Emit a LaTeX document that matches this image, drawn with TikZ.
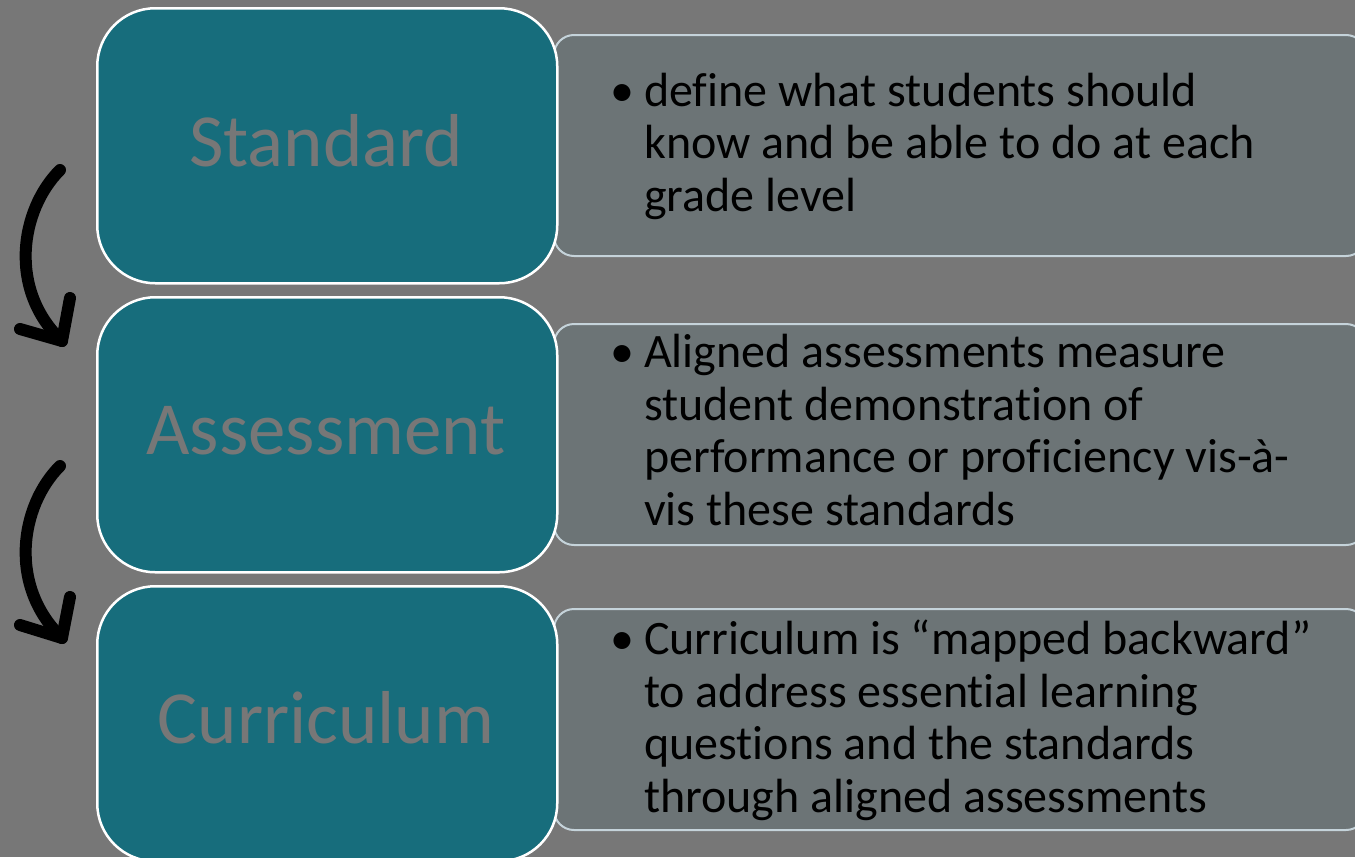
\documentclass[tikz,border=0pt]{standalone}
\usepackage{fontspec}
\setmainfont{Carlito}[Ligatures={NoCommon,NoRare,NoContextual}]
\definecolor{bg}{HTML}{777777}
\definecolor{tealbox}{HTML}{176D7C}
\definecolor{panelfill}{HTML}{6C7476}
\definecolor{panelline}{HTML}{C5D3DA}
\tikzset{
  panelbox/.style={draw=panelline, line width=2pt, fill=panelfill, rounded corners=20pt,
    minimum width=812pt, minimum height=221pt, anchor=north west, inner sep=0pt},
  tealnode/.style={draw=white, line width=2.5pt, fill=tealbox, rounded corners=58pt,
    minimum width=460pt, minimum height=275pt, anchor=north west, inner sep=0pt},
  labeltext/.style={inner sep=0pt, text=bg, font=\fontsize{75}{80}\selectfont},
  bullettext/.style={anchor=west, inner sep=0pt, font=\fontsize{48}{52.5}\selectfont, text=black},
  arrowline/.style={draw=black, line width=12pt, line cap=round, line join=round}
}
\newcommand{\bulletlines}[1]{\begin{tabular}{@{}p{34pt}@{}l@{}}#1\end{tabular}}
\begin{document}
\begin{tikzpicture}[x=1pt,y=-1pt]
\fill[bg] (0,0) rectangle (1355,857);
\useasboundingbox (0,0) rectangle (1355,857);

% right panels
\node[panelbox] (p1) at (553,34) {};
\node[panelbox] (p2) at (553,323) {};
\node[panelbox] (p3) at (553,608) {};

% teal boxes
\node[tealnode] (s) at (96,7) {};
\node[tealnode] (a) at (96,296) {};
\node[tealnode] (c) at (96,585) {};
\node[labeltext] (sl) at (326,141) {Standard};
\node[labeltext] (al) at (326,431) {Assessment};
\node[labeltext] (cl) at (326,718) {Curriculum};

% texts
\node[bullettext] (t1) at (610,148) {\bulletlines{\textbullet & define what students should\\ & know and be able to do at each\\ & grade level}};
\node[bullettext] (t2) at (610,436) {\bulletlines{\textbullet & Aligned assessments measure\\ & student demonstration of\\ & performance or proficiency vis-à-\\ & vis these standards}};
\node[bullettext] (t3) at (610,723) {\bulletlines{\textbullet & Curriculum is “mapped backward”\\ & to address essential learning\\ & questions and the standards\\ & through aligned assessments}};

% arrows
\coordinate (a1s) at (60,170);
\coordinate (a1t) at (62,341);
\coordinate (a1l) at (20,329);
\coordinate (a1r) at (70,298);
\draw[arrowline] (a1s) .. controls (20,210) and (8,290) .. (a1t);
\draw[arrowline] (a1l) -- (a1t) -- (a1r);

\coordinate (a2s) at (60,466);
\coordinate (a2t) at (62,638);
\coordinate (a2l) at (20,625);
\coordinate (a2r) at (70,597);
\draw[arrowline] (a2s) .. controls (20,506) and (8,586) .. (a2t);
\draw[arrowline] (a2l) -- (a2t) -- (a2r);
\end{tikzpicture}
\end{document}
